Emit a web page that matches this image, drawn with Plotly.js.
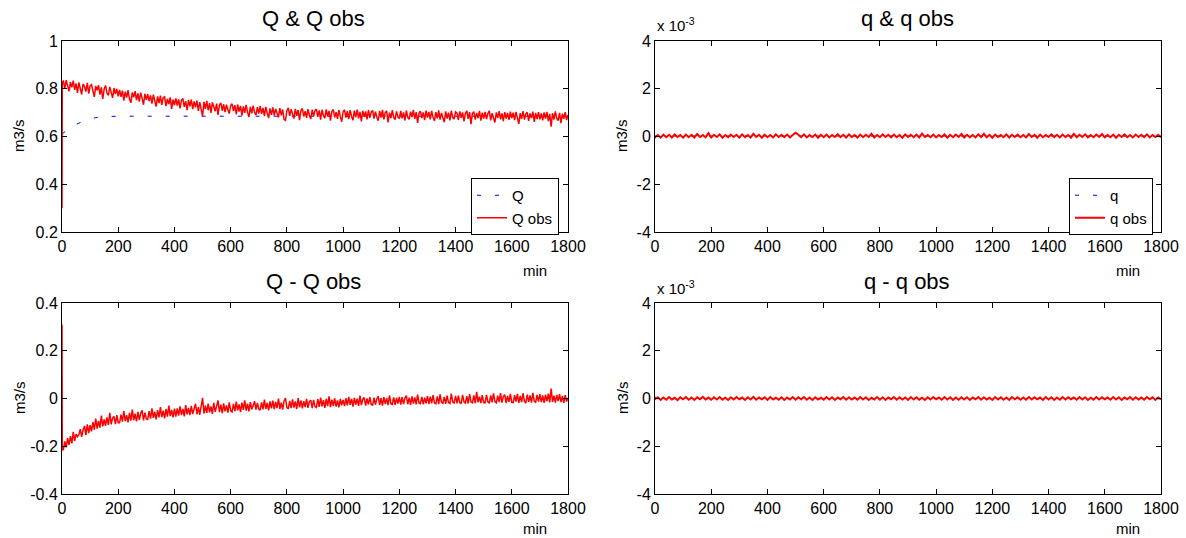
<!DOCTYPE html>
<html>
<head>
<meta charset="utf-8">
<script src="https://cdn.plot.ly/plotly-3.0.1.min.js"></script>
<style>
  html, body { margin: 0; padding: 0; background: #fff; }
  #chart { width: 1186px; height: 538px; }
</style>
</head>
<body>
<div id="chart"></div>
<script>
// ---------------- DATA ----------------
// sampling grids (minutes)
const minutes5 = [0, 1];
for (let m = 5; m <= 1800; m += 5) minutes5.push(m);
const minutes10 = [0, 1];
for (let m = 10; m <= 1800; m += 10) minutes10.push(m);

// Q model (m3/s)
const Q_minutes = [0, 10, 20, 30, 40, 50, 60, 80, 100, 120, 150, 200, 1800];
const Q_model = [0.610, 0.620, 0.630, 0.638, 0.645, 0.651, 0.656, 0.665, 0.673, 0.679, 0.683, 0.685, 0.685];

// Q observed (m3/s), 5-minute samples
const Q_obs = [0.300, 0.830,
  0.832, 0.801, 0.836, 0.812, 0.789, 0.828, 0.806, 0.834, 0.795, 0.822, 0.783, 0.826, 0.800, 0.776, 0.820, 0.809, 0.788, 0.825, 0.780, 0.812,
  0.817, 0.789, 0.766, 0.812, 0.794, 0.815, 0.775, 0.806, 0.757, 0.799, 0.814, 0.781, 0.772, 0.808, 0.790, 0.762, 0.803, 0.778, 0.799, 0.768,
  0.795, 0.766, 0.792, 0.750, 0.788, 0.763, 0.794, 0.757, 0.741, 0.785, 0.764, 0.790, 0.752, 0.781, 0.746, 0.784, 0.760, 0.733, 0.779, 0.754,
  0.777, 0.748, 0.772, 0.738, 0.775, 0.745, 0.725, 0.768, 0.740, 0.771, 0.732, 0.762, 0.766, 0.727, 0.758, 0.736, 0.764, 0.716, 0.755, 0.731,
  0.760, 0.729, 0.756, 0.718, 0.752, 0.759, 0.724, 0.748, 0.710, 0.753, 0.726, 0.755, 0.715, 0.747, 0.722, 0.750, 0.707, 0.744, 0.719, 0.685,
  0.745, 0.716, 0.749, 0.710, 0.740, 0.699, 0.743, 0.718, 0.706, 0.738, 0.690, 0.731, 0.741, 0.708, 0.735, 0.702, 0.733, 0.712, 0.696, 0.730,
  0.737, 0.706, 0.731, 0.693, 0.734, 0.704, 0.728, 0.687, 0.726, 0.699, 0.732, 0.702, 0.682, 0.724, 0.697, 0.729, 0.701, 0.690, 0.723, 0.696,
  0.727, 0.695, 0.720, 0.685, 0.724, 0.698, 0.677, 0.718, 0.691, 0.722, 0.688, 0.716, 0.694, 0.680, 0.719, 0.689, 0.713, 0.671, 0.668, 0.708,
  0.720, 0.686, 0.714, 0.691, 0.675, 0.716, 0.687, 0.711, 0.669, 0.709, 0.717, 0.684, 0.706, 0.678, 0.715, 0.688, 0.673, 0.712, 0.685, 0.708,
  0.715, 0.682, 0.709, 0.671, 0.712, 0.687, 0.677, 0.714, 0.684, 0.707, 0.666, 0.705, 0.713, 0.680, 0.702, 0.674, 0.711, 0.683, 0.662, 0.704,
  0.712, 0.679, 0.706, 0.673, 0.710, 0.685, 0.668, 0.708, 0.681, 0.713, 0.676, 0.703, 0.663, 0.707, 0.682, 0.705, 0.672, 0.711, 0.678, 0.702,
  0.709, 0.675, 0.704, 0.681, 0.666, 0.707, 0.679, 0.712, 0.672, 0.701, 0.706, 0.659, 0.700, 0.677, 0.710, 0.680, 0.671, 0.705, 0.682, 0.675,
  0.707, 0.676, 0.701, 0.667, 0.709, 0.680, 0.672, 0.704, 0.681, 0.711, 0.674, 0.702, 0.657, 0.698, 0.706, 0.677, 0.701, 0.669, 0.708, 0.679,
  0.703, 0.672, 0.707, 0.680, 0.665, 0.702, 0.676, 0.709, 0.671, 0.699, 0.678, 0.660, 0.705, 0.675, 0.700, 0.668, 0.708, 0.679, 0.673, 0.703,
  0.698, 0.670, 0.705, 0.678, 0.701, 0.663, 0.696, 0.708, 0.674, 0.702, 0.652, 0.697, 0.704, 0.671, 0.699, 0.677, 0.707, 0.666, 0.700, 0.675,
  0.703, 0.673, 0.696, 0.707, 0.668, 0.698, 0.676, 0.659, 0.701, 0.678, 0.706, 0.672, 0.697, 0.664, 0.702, 0.675, 0.699, 0.670, 0.704, 0.677,
  0.700, 0.669, 0.703, 0.676, 0.653, 0.698, 0.674, 0.706, 0.671, 0.695, 0.701, 0.665, 0.697, 0.677, 0.704, 0.661, 0.699, 0.673, 0.702, 0.672,
  0.697, 0.668, 0.701, 0.675, 0.703, 0.664, 0.695, 0.641, 0.698, 0.671, 0.705, 0.676, 0.667, 0.699, 0.656, 0.696, 0.674, 0.702, 0.669, 0.690];

// Q - Q obs (m3/s), 5-minute samples
const Q_diff = [0.310, -0.215,
  -0.214, -0.180, -0.205, -0.166, -0.194, -0.158, -0.188, -0.140, -0.178, -0.149, -0.160, -0.152, -0.128, -0.161, -0.132, -0.115, -0.153, -0.108, -0.145, -0.112,
  -0.138, -0.099, -0.131, -0.084, -0.126, -0.094, -0.122, -0.072, -0.117, -0.088, -0.114, -0.079, -0.111, -0.060, -0.108, -0.082, -0.075, -0.107, -0.070, -0.102,
  -0.101, -0.068, -0.097, -0.053, -0.095, -0.070, -0.100, -0.060, -0.093, -0.047, -0.091, -0.064, -0.096, -0.056, -0.089, -0.062, -0.050, -0.092, -0.059, -0.086,
  -0.088, -0.053, -0.084, -0.041, -0.081, -0.056, -0.087, -0.049, -0.079, -0.036, -0.078, -0.051, -0.083, -0.044, -0.076, -0.030, -0.074, -0.048, -0.079, -0.042,
  -0.076, -0.041, -0.072, -0.033, -0.069, -0.044, -0.075, -0.028, -0.067, -0.039, -0.070, -0.031, -0.065, -0.040, -0.022, -0.066, -0.036, -0.068, -0.030, 0.003,
  -0.063, -0.030, -0.060, -0.021, -0.058, -0.033, -0.064, -0.018, -0.056, -0.028, -0.008, -0.057, -0.026, -0.061, -0.020, -0.054, -0.029, -0.059, -0.016, -0.052,
  -0.056, -0.023, -0.053, -0.013, -0.050, -0.025, -0.057, -0.017, -0.048, -0.008, -0.051, -0.022, -0.054, -0.015, -0.046, -0.029, -0.011, -0.047, -0.019, -0.044,
  -0.049, -0.016, -0.046, -0.005, -0.043, -0.018, -0.050, -0.012, -0.041, -0.009, -0.045, -0.014, -0.040, 0.000, -0.044, -0.017, -0.047, -0.010, 0.002, -0.038,
  -0.043, -0.010, -0.040, -0.004, -0.038, -0.012, -0.044, 0.002, -0.037, -0.008, -0.041, -0.011, -0.036, -0.002, -0.039, -0.013, -0.007, -0.040, -0.006, -0.034,
  -0.038, -0.003, -0.035, 0.004, -0.033, -0.007, -0.039, -0.001, -0.032, 0.009, -0.036, -0.005, -0.031, 0.001, -0.034, -0.008, -0.037, -0.002, -0.029, -0.006,
  -0.032, 0.001, -0.029, 0.007, -0.027, -0.002, -0.034, 0.003, -0.026, -0.001, -0.031, 0.012, -0.028, -0.003, 0.004, -0.030, 0.000, -0.025, 0.006, -0.024,
  -0.029, 0.004, -0.026, -0.001, 0.009, -0.027, 0.001, -0.030, 0.006, -0.023, 0.002, -0.028, 0.013, -0.022, -0.025, 0.005, -0.027, 0.003, -0.021, 0.007,
  -0.026, 0.006, -0.023, 0.002, 0.012, -0.024, 0.004, -0.027, 0.009, -0.021, 0.005, -0.025, 0.016, -0.019, -0.022, 0.007, -0.024, 0.003, -0.020, 0.010,
  -0.023, 0.008, -0.020, 0.014, -0.018, -0.022, 0.009, -0.024, 0.017, -0.016, -0.020, 0.007, -0.022, 0.012, -0.017, -0.021, 0.020, -0.015, -0.019, 0.011,
  -0.020, 0.012, -0.017, -0.022, 0.015, -0.014, -0.019, 0.010, -0.021, 0.018, -0.015, -0.018, 0.013, -0.020, 0.028, -0.016, 0.008, -0.019, 0.014, -0.017,
  -0.018, 0.015, -0.014, -0.020, 0.013, -0.016, 0.021, -0.013, -0.018, 0.012, -0.015, 0.023, -0.017, 0.009, 0.016, -0.019, 0.011, -0.014, 0.019, -0.016,
  -0.017, 0.014, -0.013, 0.019, -0.018, 0.011, -0.015, 0.022, -0.012, -0.019, 0.016, -0.014, 0.013, -0.017, 0.024, -0.011, -0.016, 0.015, -0.013, 0.018,
  -0.015, 0.013, -0.018, 0.016, -0.012, 0.020, -0.016, 0.042, -0.014, 0.012, -0.017, 0.015, -0.011, 0.018, -0.015, 0.011, -0.018, 0.014, -0.013, 0.002];

// q model, values in units of 1e-3 m3/s
const q_minutes = [0, 1800];
const q_model_e3 = [0.02, 0.02];

// q observed, units of 1e-3 m3/s, 10-minute samples
const q_obs_e3 = [-0.08, -0.02,
  0.06, -0.05, 0.08, -0.03, 0.07, -0.04, 0.09, -0.02, 0.06, -0.05,
  0.08, -0.03, 0.07, -0.04, 0.10, -0.02, 0.06, -0.03, 0.14, -0.04,
  0.07, -0.02, 0.09, -0.05, 0.06, -0.03, 0.08, -0.02, 0.07, -0.04,
  0.09, -0.03, 0.06, -0.04, 0.11, -0.02, 0.07, -0.05, 0.08, -0.03,
  0.06, -0.04, 0.09, -0.02, 0.07, -0.03, 0.08, -0.04, 0.06, 0.16,
  0.07, -0.03, 0.09, -0.04, 0.06, -0.02, 0.08, -0.05, 0.07, -0.03,
  0.08, -0.04, 0.06, -0.02, 0.10, -0.03, 0.07, -0.04, 0.09, -0.02,
  0.06, -0.05, 0.08, -0.03, 0.07, -0.02, 0.11, -0.04, 0.06, -0.03,
  0.09, -0.02, 0.07, -0.04, 0.08, -0.03, 0.06, -0.05, 0.09, -0.02,
  0.07, -0.03, 0.08, -0.04, 0.12, -0.02, 0.06, -0.03, 0.08, -0.04,
  0.06, -0.02, 0.09, -0.05, 0.07, -0.03, 0.08, -0.02, 0.10, -0.04,
  0.07, -0.03, 0.06, -0.04, 0.09, -0.02, 0.11, -0.03, 0.07, -0.05,
  0.08, -0.02, 0.06, -0.03, 0.09, -0.04, 0.07, -0.02, 0.08, -0.03,
  0.06, -0.04, 0.10, -0.02, 0.07, -0.05, 0.08, -0.03, 0.06, -0.02,
  0.09, -0.03, 0.07, -0.04, 0.08, -0.02, 0.06, -0.05, 0.11, -0.03,
  0.07, -0.02, 0.09, -0.04, 0.06, -0.03, 0.08, -0.02, 0.10, -0.04,
  0.06, -0.03, 0.08, -0.05, 0.07, -0.02, 0.09, -0.03, 0.06, -0.04,
  0.08, -0.02, 0.07, -0.03, 0.09, -0.04, 0.06, -0.02, 0.07, -0.03];

// q - q obs, units of 1e-3 m3/s, 10-minute samples
const q_diff_e3 = [0.07, -0.02,
  0.05, -0.06, 0.04, -0.05, 0.06, -0.04, 0.03, -0.07, 0.05, -0.03,
  0.06, -0.05, 0.04, -0.06, 0.05, -0.03, 0.07, -0.04, 0.04, -0.05,
  0.05, -0.04, 0.06, -0.05, 0.03, -0.06, 0.05, -0.04, 0.06, -0.03,
  0.04, -0.06, 0.05, -0.04, 0.07, -0.05, 0.04, -0.03, 0.05, -0.06,
  0.06, -0.04, 0.03, -0.05, 0.05, -0.06, 0.04, -0.04, 0.06, -0.05,
  0.05, -0.03, 0.06, -0.05, 0.04, -0.06, 0.05, -0.04, 0.03, -0.05,
  0.06, -0.04, 0.05, -0.06, 0.04, -0.03, 0.06, -0.05, 0.05, -0.04,
  0.04, -0.05, 0.06, -0.04, 0.05, -0.06, 0.03, -0.04, 0.06, -0.05,
  0.05, -0.06, 0.04, -0.03, 0.06, -0.05, 0.05, -0.04, 0.04, -0.06,
  0.06, -0.04, 0.05, -0.05, 0.03, -0.06, 0.05, -0.04, 0.06, -0.03,
  0.04, -0.05, 0.06, -0.04, 0.05, -0.06, 0.04, -0.05, 0.05, -0.04,
  0.05, -0.06, 0.04, -0.03, 0.06, -0.05, 0.05, -0.04, 0.03, -0.06,
  0.06, -0.04, 0.05, -0.05, 0.04, -0.06, 0.06, -0.03, 0.05, -0.05,
  0.04, -0.05, 0.06, -0.04, 0.05, -0.03, 0.04, -0.06, 0.06, -0.04,
  0.05, -0.06, 0.04, -0.05, 0.06, -0.04, 0.05, -0.03, 0.04, -0.05,
  0.06, -0.04, 0.05, -0.06, 0.03, -0.05, 0.06, -0.04, 0.05, -0.03,
  0.04, -0.05, 0.06, -0.04, 0.05, -0.06, 0.04, -0.03, 0.06, -0.05,
  0.05, -0.04, 0.04, -0.05, 0.06, -0.03, 0.05, -0.06, 0.04, -0.04];

// tick labels
const xTicks = [0, 200, 400, 600, 800, 1000, 1200, 1400, 1600, 1800];
const yTicksQ = [0.2, 0.4, 0.6, 0.8, 1];
const yTextQ = ['0.2', '0.4', '0.6', '0.8', '1'];
const yTicksD = [-0.4, -0.2, 0, 0.2, 0.4];
const yTextD = ['-0.4', '-0.2', '0', '0.2', '0.4'];
const yTicksq = [-0.004, -0.002, 0, 0.002, 0.004];
const yTextq = ['-4', '-2', '0', '2', '4'];

// ---------------- PLOT ----------------
const e3 = v => v * 1e-3;
const RED = '#ff0000', BLUE = '#0000ff';
const dashStyle = '4px,14px';

const traces = [
  {x: Q_minutes, y: Q_model, xaxis: 'x', yaxis: 'y', name: 'Q', mode: 'lines',
   line: {color: BLUE, width: 1, dash: dashStyle}, legend: 'legend'},
  {x: minutes5, y: Q_obs, xaxis: 'x', yaxis: 'y', name: 'Q obs', mode: 'lines',
   line: {color: RED, width: 1.5}, legend: 'legend'},
  {x: q_minutes, y: q_model_e3.map(e3), xaxis: 'x2', yaxis: 'y2', name: 'q', mode: 'lines',
   line: {color: BLUE, width: 1, dash: dashStyle}, legend: 'legend2'},
  {x: minutes10, y: q_obs_e3.map(e3), xaxis: 'x2', yaxis: 'y2', name: 'q obs', mode: 'lines',
   line: {color: RED, width: 2}, legend: 'legend2'},
  {x: minutes5, y: Q_diff, xaxis: 'x3', yaxis: 'y3', name: 'Q - Q obs', mode: 'lines',
   line: {color: RED, width: 1.5}, showlegend: false},
  {x: minutes10, y: q_diff_e3.map(e3), xaxis: 'x4', yaxis: 'y4', name: 'q - q obs', mode: 'lines',
   line: {color: RED, width: 2}, showlegend: false}
];

const W = 1186, H = 538;
const px = v => v / W;
const py = v => 1 - v / H;

const axBase = {
  showline: true, linecolor: '#000', linewidth: 1, mirror: 'ticks',
  ticks: 'inside', ticklen: 5, tickwidth: 1, tickcolor: '#000',
  showgrid: false, zeroline: false, fixedrange: true,
  tickfont: {size: 16, color: '#000'}
};
const xAx = (dom, anchor) => Object.assign({}, axBase, {
  domain: dom, anchor: anchor, range: [0, 1800], tickmode: 'array',
  tickvals: xTicks, ticktext: xTicks.map(String)
});
const yAx = (dom, anchor, range, vals, text) => Object.assign({}, axBase, {
  domain: dom, anchor: anchor, range: range, tickmode: 'array',
  tickvals: vals, ticktext: text
});

const xLeft = [px(62), px(568)], xRight = [px(655), px(1161)];
const yTop = [py(232), py(41)], yBot = [py(494), py(303)];

const ann = (text, x, y, size, extra) => Object.assign({
  text: text, x: px(x), y: py(y), xref: 'paper', yref: 'paper', showarrow: false,
  xanchor: 'center', yanchor: 'middle', font: {size: size, color: '#000'}
}, extra || {});

const layout = {
  width: W, height: H,
  margin: {l: 0, r: 0, t: 0, b: 0},
  paper_bgcolor: '#fff', plot_bgcolor: '#fff',
  font: {family: '"Liberation Sans", Arial, sans-serif', size: 15, color: '#000'},
  showlegend: true,
  xaxis: xAx(xLeft, 'y'),
  yaxis: yAx(yTop, 'x', [0.2, 1], yTicksQ, yTextQ),
  xaxis2: xAx(xRight, 'y2'),
  yaxis2: yAx(yTop, 'x2', [-0.004, 0.004], yTicksq, yTextq),
  xaxis3: xAx(xLeft, 'y3'),
  yaxis3: yAx(yBot, 'x3', [-0.4, 0.4], yTicksD, yTextD),
  xaxis4: xAx(xRight, 'y4'),
  yaxis4: yAx(yBot, 'x4', [-0.004, 0.004], yTicksq, yTextq),
  legend: {
    x: px(559), xanchor: 'right', y: py(178), yanchor: 'top',
    bgcolor: '#fff', bordercolor: '#000', borderwidth: 1,
    font: {size: 15}, itemwidth: 30, tracegroupgap: 0
  },
  legend2: {
    x: px(1153), xanchor: 'right', y: py(178), yanchor: 'top',
    bgcolor: '#fff', bordercolor: '#000', borderwidth: 1,
    font: {size: 15}, itemwidth: 30, tracegroupgap: 0
  },
  annotations: [
    ann('Q &amp; Q obs', 313, 19, 22),
    ann('q &amp; q obs', 907, 19, 22),
    ann('Q - Q obs', 313, 281, 22),
    ann('q - q obs', 907, 281, 22),
    ann('m3/s', 19, 136, 15, {textangle: -90}),
    ann('m3/s', 19, 398, 15, {textangle: -90}),
    ann('m3/s', 622, 136, 15, {textangle: -90}),
    ann('m3/s', 622, 398, 15, {textangle: -90}),
    ann('min', 535, 270, 15),
    ann('min', 535, 528, 15),
    ann('min', 1128, 270, 15),
    ann('min', 1128, 528, 15),
    ann('x 10<sup>-3</sup>', 655, 24, 15, {xanchor: 'left'}),
    ann('x 10<sup>-3</sup>', 655, 287, 15, {xanchor: 'left'})
  ]
};

Plotly.newPlot('chart', traces, layout, {displayModeBar: false, staticPlot: true});
</script>
</body>
</html>
